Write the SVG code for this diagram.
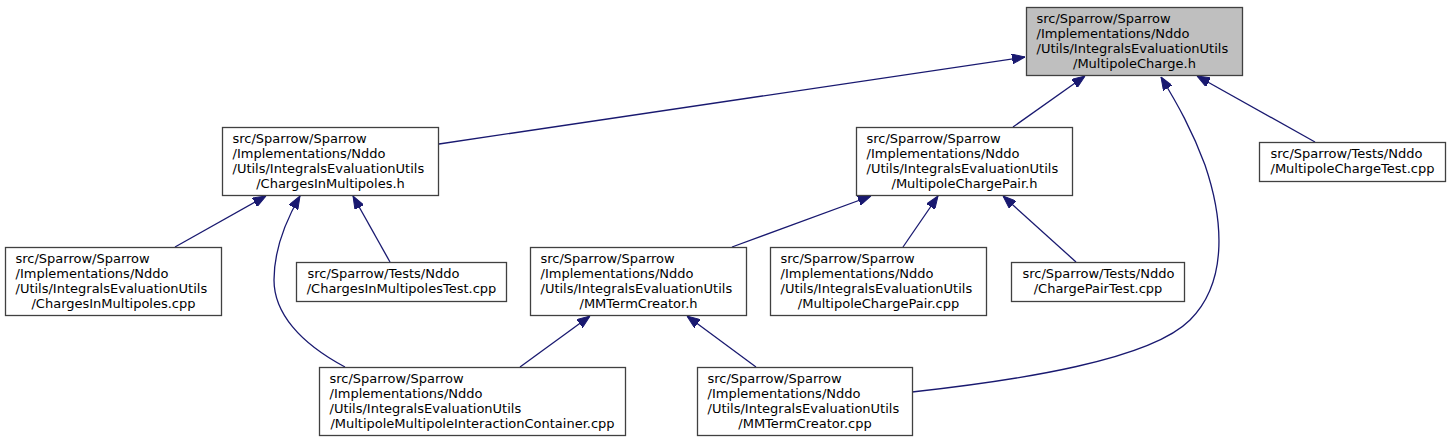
<svg xmlns="http://www.w3.org/2000/svg" width="1449" height="443" viewBox="0 0 1449 443">
<style>
  .node rect { fill: #ffffff; stroke: #404040; stroke-width: 1.3; }
  .node.main rect { fill: #bfbfbf; }
  .node text { font-family: "DejaVu Sans", "Liberation Sans", sans-serif; font-size: 13px; fill: #000000; }
  .node text.c { text-anchor: middle; }
  .edges path { fill: none; stroke: #191970; stroke-width: 1.3; marker-end: url(#arrow); }
</style>
<defs>
  <marker id="arrow" viewBox="0 0 13 10" refX="13" refY="5" markerWidth="13" markerHeight="10" markerUnits="userSpaceOnUse" orient="auto">
    <path d="M0,0 L13,5 L0,10 z" fill="#191970" stroke="#191970" stroke-width="1"/>
  </marker>
</defs>
<rect x="0" y="0" width="1449" height="443" fill="#ffffff"/>
<g id="edges" class="edges">
  <path d="M439,144 L1025,57"/>
  <path d="M1013,127 L1085,76"/>
  <path d="M912,392 C1020,380 1150,360 1190,320 C1230,280 1222,215 1205,165 C1192,130 1178,105 1161,77"/>
  <path d="M1315,142 L1197,76"/>
  <path d="M175,247 L266,196"/>
  <path d="M345,367 C300,343 274,313 274,280 C274,250 285,222 300,196"/>
  <path d="M390,262 L353,196"/>
  <path d="M732,247 L871,196"/>
  <path d="M903,247 L938,196"/>
  <path d="M1076,262 L1003,196"/>
  <path d="M520,367 L590,316"/>
  <path d="M756,367 L687,316"/>
</g>
<g id="node0" class="node main">
  <rect x="1026.5" y="7.5" width="216" height="68"/>
  <text x="1036.5" y="23">src/Sparrow/Sparrow</text>
  <text x="1036.5" y="38">/Implementations/Nddo</text>
  <text x="1036.5" y="53">/Utils/IntegralsEvaluationUtils</text>
  <text class="c" x="1134.5" y="68">/MultipoleCharge.h</text>
</g>
<g id="node1" class="node">
  <rect x="222.5" y="127.5" width="216" height="68"/>
  <text x="232.5" y="143">src/Sparrow/Sparrow</text>
  <text x="232.5" y="158">/Implementations/Nddo</text>
  <text x="232.5" y="173">/Utils/IntegralsEvaluationUtils</text>
  <text class="c" x="330.5" y="188">/ChargesInMultipoles.h</text>
</g>
<g id="node2" class="node">
  <rect x="5.5" y="247.5" width="216" height="68"/>
  <text x="15.5" y="263">src/Sparrow/Sparrow</text>
  <text x="15.5" y="278">/Implementations/Nddo</text>
  <text x="15.5" y="293">/Utils/IntegralsEvaluationUtils</text>
  <text class="c" x="113.5" y="308">/ChargesInMultipoles.cpp</text>
</g>
<g id="node3" class="node">
  <rect x="319.5" y="367.5" width="306" height="68"/>
  <text x="329.5" y="383">src/Sparrow/Sparrow</text>
  <text x="329.5" y="398">/Implementations/Nddo</text>
  <text x="329.5" y="413">/Utils/IntegralsEvaluationUtils</text>
  <text class="c" x="472.5" y="428">/MultipoleMultipoleInteractionContainer.cpp</text>
</g>
<g id="node4" class="node">
  <rect x="296.5" y="262.5" width="210" height="39"/>
  <text x="307.5" y="278">src/Sparrow/Tests/Nddo</text>
  <text class="c" x="401.5" y="293">/ChargesInMultipolesTest.cpp</text>
</g>
<g id="node5" class="node">
  <rect x="856.5" y="127.5" width="216" height="68"/>
  <text x="866.5" y="143">src/Sparrow/Sparrow</text>
  <text x="866.5" y="158">/Implementations/Nddo</text>
  <text x="866.5" y="173">/Utils/IntegralsEvaluationUtils</text>
  <text class="c" x="964.5" y="188">/MultipoleChargePair.h</text>
</g>
<g id="node6" class="node">
  <rect x="530.5" y="247.5" width="216" height="68"/>
  <text x="540.5" y="263">src/Sparrow/Sparrow</text>
  <text x="540.5" y="278">/Implementations/Nddo</text>
  <text x="540.5" y="293">/Utils/IntegralsEvaluationUtils</text>
  <text class="c" x="638.5" y="308">/MMTermCreator.h</text>
</g>
<g id="node7" class="node">
  <rect x="697.5" y="367.5" width="215" height="68"/>
  <text x="707.5" y="383">src/Sparrow/Sparrow</text>
  <text x="707.5" y="398">/Implementations/Nddo</text>
  <text x="707.5" y="413">/Utils/IntegralsEvaluationUtils</text>
  <text class="c" x="805" y="428">/MMTermCreator.cpp</text>
</g>
<g id="node8" class="node">
  <rect x="770.5" y="247.5" width="216" height="68"/>
  <text x="780.5" y="263">src/Sparrow/Sparrow</text>
  <text x="780.5" y="278">/Implementations/Nddo</text>
  <text x="780.5" y="293">/Utils/IntegralsEvaluationUtils</text>
  <text class="c" x="878.5" y="308">/MultipoleChargePair.cpp</text>
</g>
<g id="node9" class="node">
  <rect x="1011.5" y="262.5" width="173" height="39"/>
  <text x="1022.5" y="278">src/Sparrow/Tests/Nddo</text>
  <text class="c" x="1098" y="293">/ChargePairTest.cpp</text>
</g>
<g id="node10" class="node">
  <rect x="1259.5" y="142.5" width="186" height="39"/>
  <text x="1270.5" y="158">src/Sparrow/Tests/Nddo</text>
  <text x="1270.5" y="173">/MultipoleChargeTest.cpp</text>
</g>
</svg>
